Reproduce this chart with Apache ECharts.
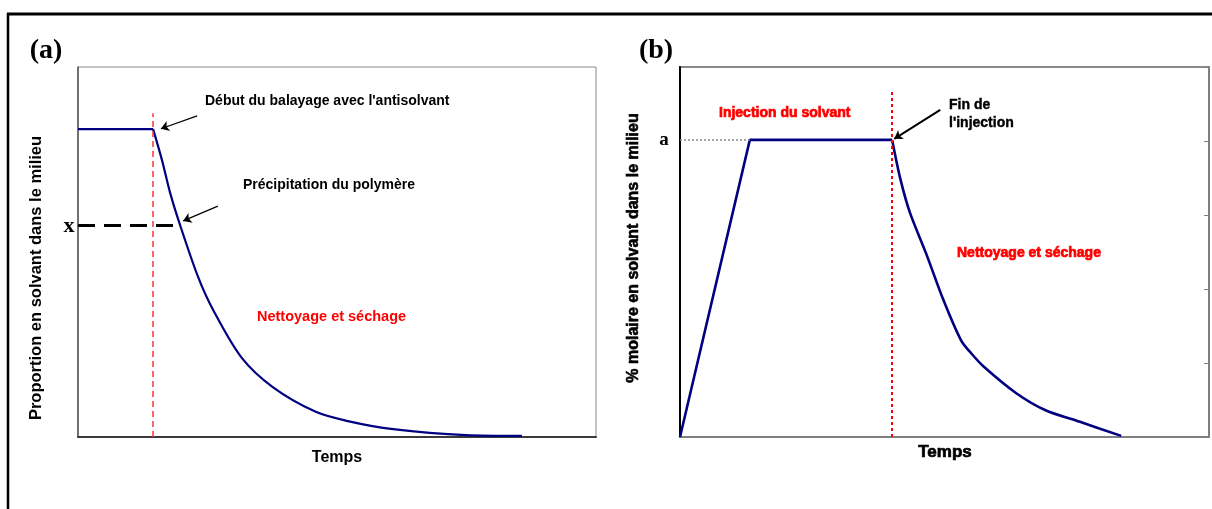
<!DOCTYPE html>
<html><head><meta charset="utf-8">
<script src="https://cdn.jsdelivr.net/npm/echarts@6/dist/echarts.min.js"></script>
<style>html,body{margin:0;padding:0;background:#fff}#c{width:1212px;height:509px}</style>
</head><body><div id="c"></div>
<script>
// Panel (a): proportion of solvant vs time
const aTime =       [0,    14.5, 16.2, 17.8, 19.7, 23.2, 26.1, 31.5, 37.6, 45.9, 52.1, 60.4, 74.9, 85.7];
const aProportion = [83.2, 83.2, 74.9, 65.9, 57.3, 43.2, 34.3, 21.6, 13.5, 6.8,  4.3,  2.2,  0.5,  0.3];
const aStart = 14.5;      // début du balayage
const aX = 57.3;          // level x
// Panel (b): molar % of solvant vs time
const bTime =  [0, 13.2, 40.1, 41.7, 43.5, 46.5, 49.8, 53.1, 55.0, 57.5, 63.5, 69.0, 75.6, 83.4];
const bMolar = [0, 80.3, 80.3, 69.5, 60.5, 49.7, 37.0, 26.2, 22.7, 18.9, 11.9, 7.3,  4.1,  0.3];
const bEnd = 40.1;        // fin de l'injection
const bA = 80.3;          // level a

const zip = (xs, ys) => xs.map((x, i) => [x, ys[i]]);
const SANS = '"Liberation Sans", Arial, sans-serif';
const SERIF = '"Liberation Serif", "Times New Roman", serif';

const chart = echarts.init(document.getElementById('c'), null, {renderer: 'canvas'});
const ml = (lines, style) => ({
  silent: true, symbol: ['none', 'none'], label: {show: false},
  lineStyle: style, emphasis: {disabled: true}, data: lines
});
const arrow = (lines, width) => ({
  silent: true, symbol: ['none', 'arrow'], symbolSize: 8, label: {show: false},
  itemStyle: {color: '#000'},
  lineStyle: {color: '#000', width: width, type: 'solid'}, emphasis: {disabled: true}, data: lines
});

function txt(x, y, text, font, color, align, extra) {
  return {type: 'text', x: x, y: y, silent: true,
    style: Object.assign({text: text, font: font, fill: color || '#000', align: align || 'left', verticalAlign: 'middle'}, extra || {})};
}

const aCorner = aTime.indexOf(aStart);
const bCorner = bTime.indexOf(bEnd);

chart.setOption({
  animation: false,
  grid: [
    {left: 78, top: 67, width: 518, height: 370, show: true, borderColor: '#8a8a8a', borderWidth: 1},
    {left: 680, top: 67, width: 529, height: 370, show: true, borderColor: '#8a8a8a', borderWidth: 2}
  ],
  xAxis: [
    {type: 'value', gridIndex: 0, min: 0, max: 100, axisLine: {show: true, onZero: false, lineStyle: {color: '#3a3a3a', width: 2}},
     axisTick: {show: false}, axisLabel: {show: false}, splitLine: {show: false}},
    {type: 'value', gridIndex: 1, min: 0, max: 100, axisLine: {show: true, onZero: false, lineStyle: {color: '#808080', width: 2}},
     axisTick: {show: false}, axisLabel: {show: false}, splitLine: {show: false}}
  ],
  yAxis: [
    {type: 'value', gridIndex: 0, min: 0, max: 100, axisLine: {show: true, onZero: false, lineStyle: {color: '#555', width: 1.5}},
     axisTick: {show: false}, axisLabel: {show: false}, splitLine: {show: false}},
    {type: 'value', gridIndex: 1, min: 0, max: 100, interval: 20, axisLine: {show: true, onZero: false, lineStyle: {color: '#000', width: 2}},
     axisTick: {show: false}, axisLabel: {show: false}, splitLine: {show: false}},
    {type: 'value', gridIndex: 1, position: 'right', min: 0, max: 100, interval: 20, axisLine: {show: true, onZero: false, lineStyle: {color: '#808080', width: 2}},
     axisTick: {show: true, inside: true, length: 5, lineStyle: {color: '#808080', width: 1}}, axisLabel: {show: false}, splitLine: {show: false}}
  ],
  series: [
    {type: 'line', xAxisIndex: 0, yAxisIndex: 0, data: zip(aTime, aProportion).slice(0, aCorner + 1), showSymbol: false, symbol: 'none',
     lineStyle: {color: '#000080', width: 2.2}, silent: true,
     markLine: ml([[{coord: [aStart, 0]}, {coord: [aStart, 87.5]}]], {color: '#ff3333', width: 1.5, type: [6, 4]})},
    {type: 'line', xAxisIndex: 0, yAxisIndex: 0, data: zip(aTime, aProportion).slice(aCorner), showSymbol: false, symbol: 'none',
     smooth: 0.3, lineStyle: {color: '#000080', width: 2.2}, silent: true,
     markLine: ml([[{coord: [0, aX]}, {coord: [19.7, aX]}]], {color: '#000', width: 3, type: [17, 9]})},
    {type: 'line', xAxisIndex: 0, yAxisIndex: 0, data: [], silent: true,
     markLine: arrow([[{coord: [23.0, 86.8]}, {coord: [16.0, 83.3]}], [{coord: [27.0, 62.4]}, {coord: [20.3, 58.4]}]], 1.2)},
    {type: 'line', xAxisIndex: 1, yAxisIndex: 1, data: zip(bTime, bMolar).slice(0, bCorner + 1), showSymbol: false, symbol: 'none',
     lineStyle: {color: '#000080', width: 2.6}, silent: true,
     markLine: ml([[{coord: [bEnd, 0]}, {coord: [bEnd, 93.5]}]], {color: '#ff0000', width: 2, type: [3, 3]})},
    {type: 'line', xAxisIndex: 1, yAxisIndex: 1, data: zip(bTime, bMolar).slice(bCorner), showSymbol: false, symbol: 'none',
     smooth: 0.3, lineStyle: {color: '#000080', width: 2.6}, silent: true,
     markLine: ml([[{coord: [0, bA]}, {coord: [13.2, bA]}]], {color: '#888', width: 1.5, type: [2, 2]})},
    {type: 'line', xAxisIndex: 1, yAxisIndex: 1, data: [], silent: true,
     markLine: arrow([[{coord: [49.2, 88.4]}, {coord: [40.5, 80.6]}]], 2)}
  ],
  graphic: [
    {type: 'line', silent: true, shape: {x1: 7, y1: 14, x2: 1212, y2: 14}, style: {stroke: '#000', lineWidth: 3}},
    {type: 'line', silent: true, shape: {x1: 8, y1: 13, x2: 8, y2: 509}, style: {stroke: '#000', lineWidth: 2.5}},
    txt(46, 51, '(a)', 'bold 28px ' + SERIF, '#000', 'center'),
    txt(656, 51, '(b)', 'bold 28px ' + SERIF, '#000', 'center'),
    txt(69, 226, 'x', 'bold 22px ' + SERIF, '#000', 'center'),
    txt(664, 140, 'a', 'bold 19px ' + SERIF, '#000', 'center'),
    txt(205, 101, "Début du balayage avec l'antisolvant", 'bold 14px ' + SANS),
    txt(243, 185, 'Précipitation du polymère', 'bold 14px ' + SANS),
    txt(257, 317, 'Nettoyage et séchage', 'bold 14.5px ' + SANS, '#ff0000'),
    txt(337, 458, 'Temps', 'bold 16px ' + SANS, '#000', 'center'),
    Object.assign(txt(36, 278, 'Proportion en solvant dans le milieu', 'bold 16.5px ' + SANS, '#000', 'center'), {rotation: Math.PI / 2}),
    txt(719, 113, 'Injection du solvant', 'bold 14px ' + SANS, '#ff0000', 'left', {stroke: '#ff0000', lineWidth: 0.7}),
    txt(949, 105, 'Fin de', 'bold 14px ' + SANS, '#000', 'left', {stroke: '#000', lineWidth: 0.4}),
    txt(949, 123, "l'injection", 'bold 14px ' + SANS, '#000', 'left', {stroke: '#000', lineWidth: 0.4}),
    txt(957, 253, 'Nettoyage et séchage', 'bold 14px ' + SANS, '#ff0000', 'left', {stroke: '#ff0000', lineWidth: 0.7}),
    txt(945, 452, 'Temps', 'bold 17px ' + SANS, '#000', 'center', {stroke: '#000', lineWidth: 0.7}),
    Object.assign(txt(634, 248, '% molaire en solvant dans le milieu', 'bold 16px ' + SANS, '#000', 'center', {stroke: '#000', lineWidth: 0.6}), {rotation: Math.PI / 2})
  ]
});
</script></body></html>
